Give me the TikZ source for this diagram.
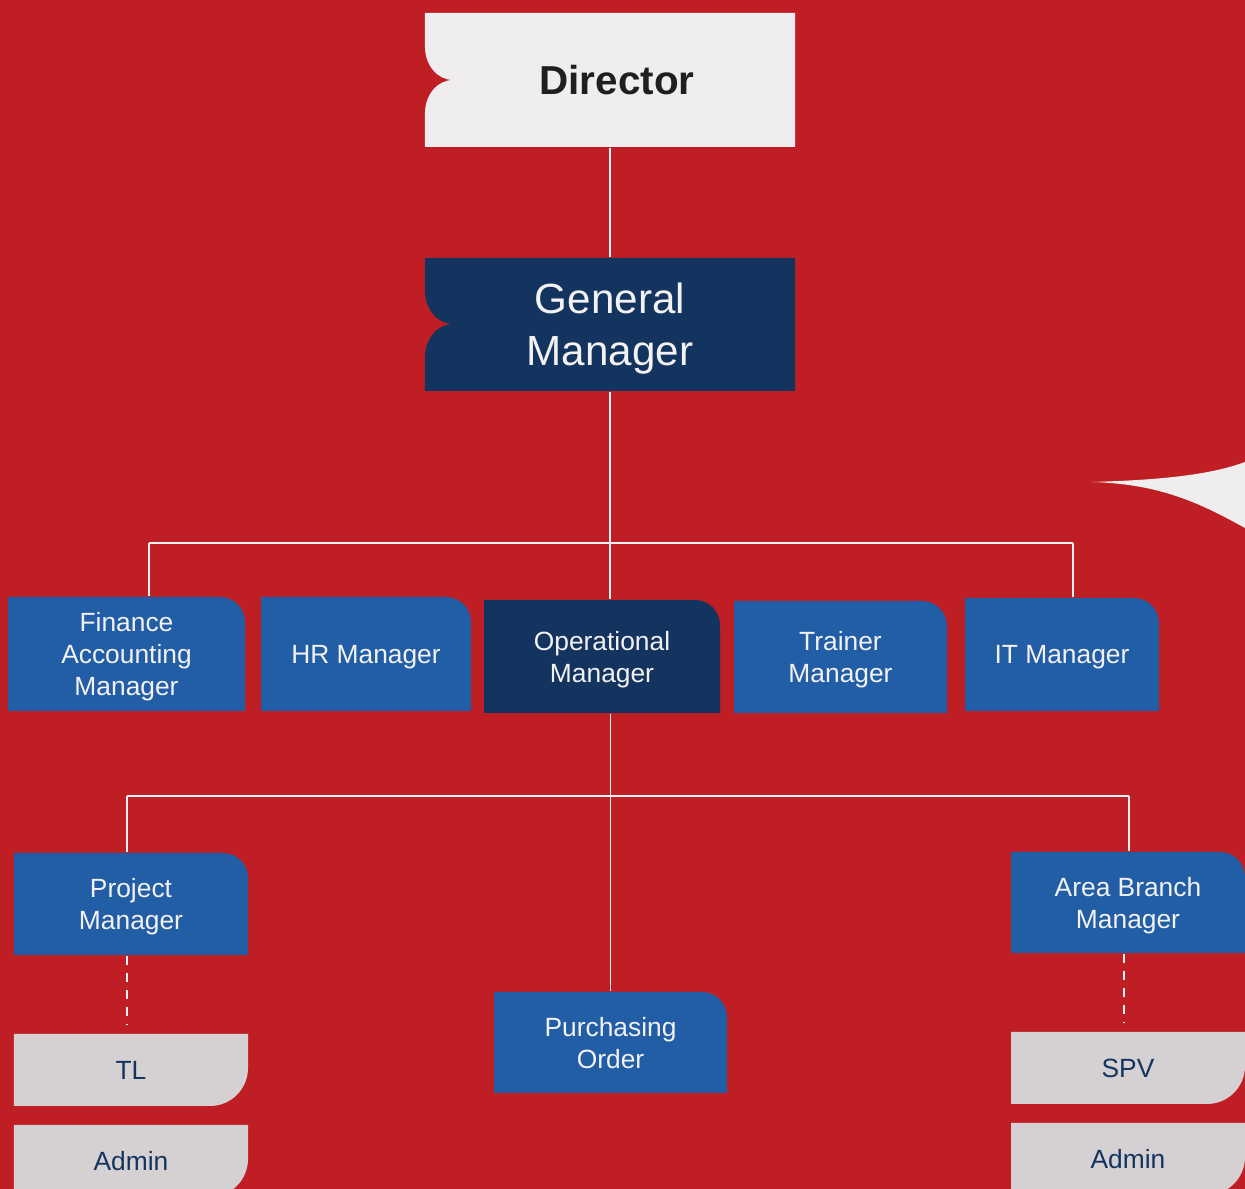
\documentclass[tikz,border=0pt]{standalone}
\usepackage{fontspec}
\setmainfont{Liberation Sans}
\usetikzlibrary{calc}

\definecolor{bgred}{RGB}{191,31,36}
\definecolor{navy}{RGB}{20,52,96}
\definecolor{midblue}{RGB}{34,94,166}
\definecolor{paper}{RGB}{239,237,238}
\definecolor{lightgrey}{RGB}{213,209,210}
\definecolor{inkwhite}{RGB}{243,241,242}

\begin{document}
\begin{tikzpicture}[x=0.2mm, y=0.2mm, line width=1.1pt]
    \tikzset{
        box/.style={inner sep=0pt, text depth=0pt, align=center, text=inkwhite, font=\fontsize{15}{18.2}\selectfont},
        tab/.style={box, path picture={
            \fill[#1] (path picture bounding box.south west) -- (path picture bounding box.north west)
            -- ($(path picture bounding box.north east)+(-5mm,0)$) arc[start angle=90, end angle=0, radius=5mm]
            -- (path picture bounding box.south east) -- cycle;}},
        slip/.style={box, text=navy, path picture={
            \fill[lightgrey] (path picture bounding box.north west) -- (path picture bounding box.north east)
            -- ($(path picture bounding box.south east)+(0,7.6mm)$) arc[start angle=0, end angle=-90, radius=7.6mm]
            -- (path picture bounding box.south west) -- cycle;}},
        notch/.style={inner sep=0pt, text depth=0pt, align=center, minimum width=74mm, path picture={
            \fill[#1] (path picture bounding box.north east) -- (path picture bounding box.south east)
            -- (path picture bounding box.south west) -- ++(0,6.8mm)
            arc[start angle=180, end angle=90, x radius=5.6mm, y radius=6.6mm]
            arc[start angle=270, end angle=180, x radius=5.6mm, y radius=6.6mm]
            -- (path picture bounding box.north west) -- cycle;}},
        link/.style={draw=inkwhite},
        dotlink/.style={draw=inkwhite, dash pattern=on 1.8mm off 1.6mm}
    }

    \fill[bgred] (0,0) rectangle (1245,1189);
    \useasboundingbox (0,0) rectangle (1245,1189);

    % corner swoosh
    \fill[paper] (1092,707) .. controls (1160,709) and (1210,714) .. (1245,727)
        -- (1245,661) .. controls (1200,686) and (1160,705) .. (1092,707);

    \node[notch=paper, minimum height=26.8mm, text={black!88}, font=\bfseries\fontsize{23}{28}\selectfont] (director) at (610,1109) {\hspace*{2.8mm}Director};
    \node[notch=navy, minimum height=26.6mm, text=inkwhite, font=\fontsize{24}{29.5}\selectfont] (gm) at (610,864.5) {General\\Manager};

    % managers
    \node[tab=midblue, minimum width=47.4mm, minimum height=22.8mm] (fin) at (126.5,535) {Finance\\Accounting\\Manager};
    \node[tab=midblue, minimum width=42mm, minimum height=22.8mm] (hr) at (366,535) {HR Manager};
    \node[tab=navy, minimum width=47.2mm, minimum height=22.6mm] (ops) at (602,532.5) {Operational\\Manager};
    \node[tab=midblue, minimum width=42.6mm, minimum height=22.4mm] (trainer) at (840.5,532) {Trainer\\Manager};
    \node[tab=midblue, minimum width=38.8mm, minimum height=22.6mm] (it) at (1062,534.5) {IT Manager};

    % under operational
    \node[tab=midblue, minimum width=46.8mm, minimum height=20.4mm] (pm) at (131,285) {Project\\Manager};
    \node[tab=midblue, minimum width=46.6mm, minimum height=20.2mm] (po) at (610.5,146.5) {Purchasing\\Order};
    \node[tab=midblue, minimum width=46.8mm, minimum height=20.2mm] (abm) at (1128,286.5) {Area Branch\\Manager};

    \node[slip, minimum width=46.8mm, minimum height=14.4mm] (tl) at (131,119) {TL};
    \node[slip, minimum width=46.8mm, minimum height=14.4mm] (adminl) at (131,28) {Admin};
    \node[slip, minimum width=46.8mm, minimum height=14.4mm] (spv) at (1128,121) {SPV};
    \node[slip, minimum width=46.8mm, minimum height=14.4mm] (adminr) at (1128,30) {Admin};

    \coordinate (jf) at (149,646);
    \coordinate (ji) at (1073,646);
    \coordinate (jp) at (127,393);
    \coordinate (ja) at (1129,393);

    \draw[link] (director) -- (gm);
    \draw[link] (gm.south) -- (gm.south |- ops.north);
    \draw[link] (jf) -- (ji);
    \draw[link] (jf) -- (jf |- fin.north);
    \draw[link] (ji) -- (ji |- it.north);
    \draw[link] (po.north |- ops.south) -- (po.north);
    \draw[link] (jp) -- (ja);
    \draw[link] (jp) -- (jp |- pm.north);
    \draw[link] (ja) -- (ja |- abm.north);
    \draw[dotlink, shorten >=1.8mm] (jp |- pm.south) -- (jp |- tl.north);
    \draw[dotlink, shorten >=1.8mm] (1124,0 |- abm.south) -- (1124,0 |- spv.north);
\end{tikzpicture}
\end{document}
